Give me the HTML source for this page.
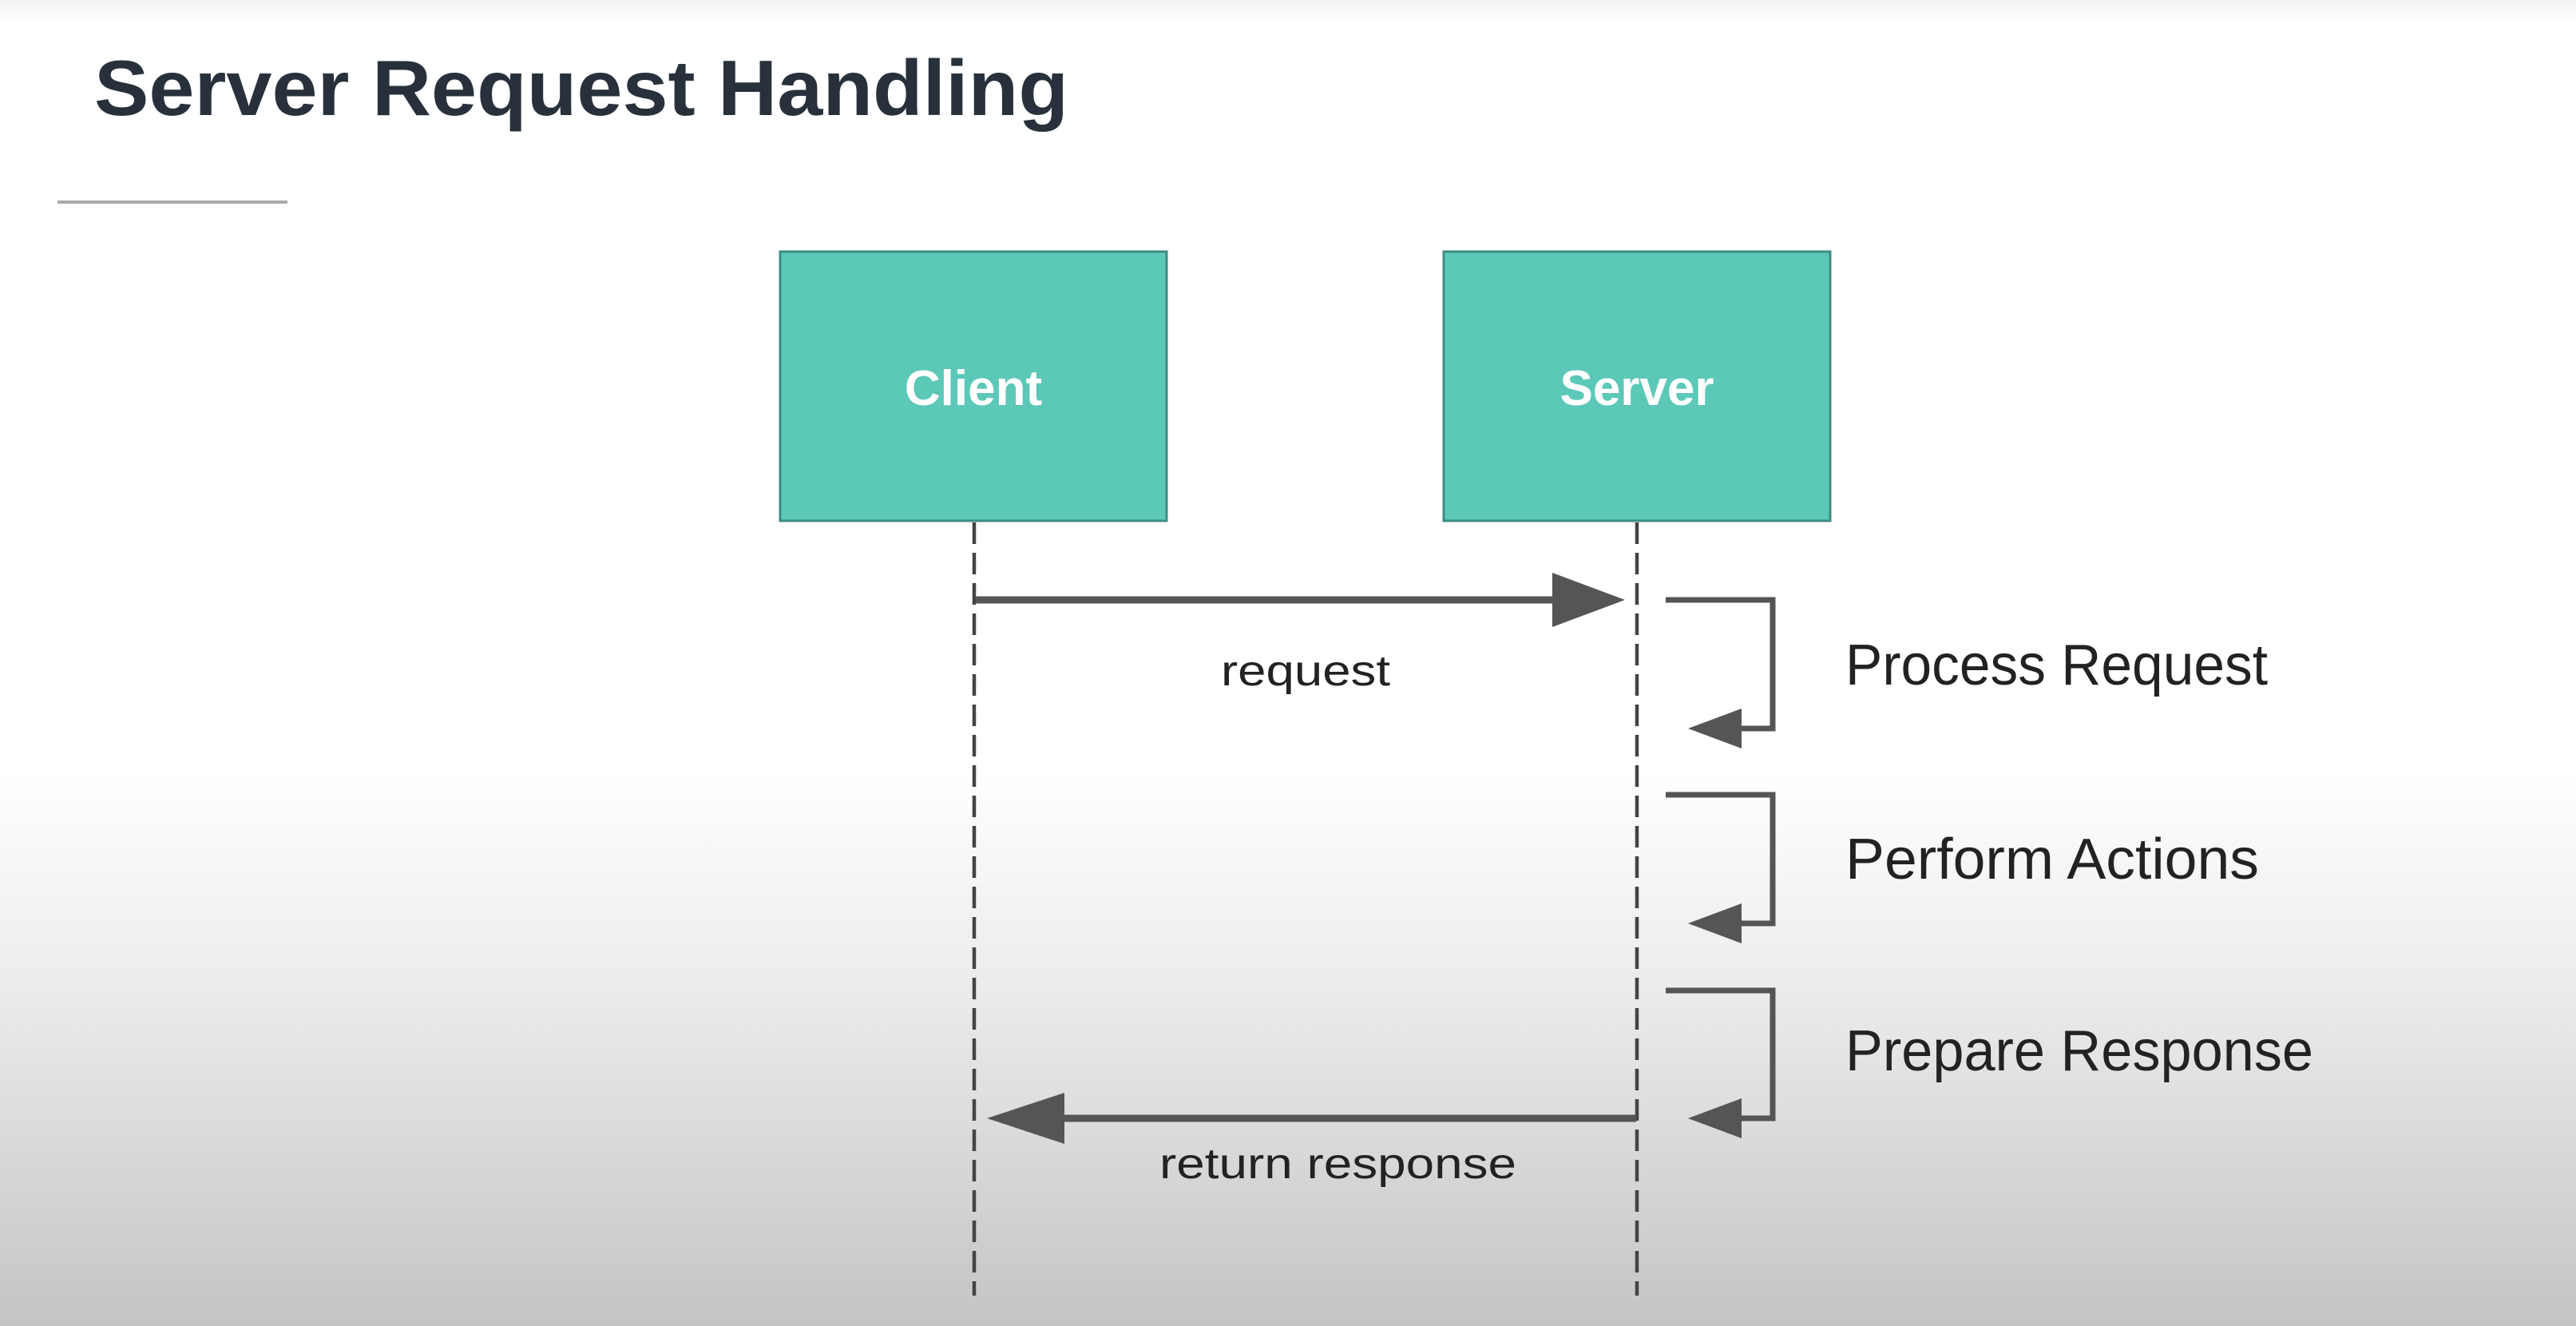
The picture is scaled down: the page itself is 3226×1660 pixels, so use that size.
<!DOCTYPE html>
<html><head><meta charset="utf-8"><style>
html,body{margin:0;padding:0}
body{width:3226px;height:1660px;overflow:hidden}
svg{display:block}
</style></head><body>
<svg width="3226" height="1660" viewBox="0 0 3226 1660" xmlns="http://www.w3.org/2000/svg">
<defs>
<linearGradient id="bg" x1="0" y1="0" x2="0" y2="1">
<stop offset="0" stop-color="#f4f4f4"/>
<stop offset="0.02" stop-color="#ffffff"/>
<stop offset="0.58" stop-color="#ffffff"/>
<stop offset="0.75" stop-color="#ebebeb"/>
<stop offset="1" stop-color="#c4c4c4"/>
</linearGradient>
</defs>
<rect width="3226" height="1660" fill="url(#bg)"/>
<text x="118" y="144" font-family="Liberation Sans, sans-serif" font-weight="bold" font-size="98" fill="#28313b" textLength="1220" lengthAdjust="spacingAndGlyphs">Server Request Handling</text>
<rect x="72" y="251" width="288" height="4" fill="#aaaaaa"/>

<rect x="977" y="315" width="484" height="337" fill="#5cc8b8" stroke="#3d8d83" stroke-width="3"/>
<rect x="1808" y="315" width="484" height="337" fill="#5cc8b8" stroke="#3d8d83" stroke-width="3"/>
<text x="1219" y="507" text-anchor="middle" font-family="Liberation Sans, sans-serif" font-weight="bold" font-size="62" fill="#ffffff">Client</text>
<text x="2050" y="507" text-anchor="middle" font-family="Liberation Sans, sans-serif" font-weight="bold" font-size="62" fill="#ffffff">Server</text>

<g stroke="#444" stroke-width="4.5" stroke-dasharray="27 11">
<line x1="1220" y1="654" x2="1220" y2="1622"/>
<line x1="2050" y1="654" x2="2050" y2="1622"/>
</g>

<g fill="#555" stroke="#555">
<line x1="1222" y1="751" x2="1950" y2="751" stroke-width="9"/>
<polygon points="1944,717 2035,751 1944,785" stroke="none"/>
<line x1="2049" y1="1400" x2="1325" y2="1400" stroke-width="9"/>
<polygon points="1333,1368 1236,1400 1333,1432" stroke="none"/>
</g>

<g fill="none" stroke="#555" stroke-width="7">
<polyline points="2086,751 2220,751 2220,912 2175,912"/>
<polyline points="2086,995 2220,995 2220,1156 2175,1156"/>
<polyline points="2086,1240 2220,1240 2220,1400 2175,1400"/>
</g>
<g fill="#555">
<polygon points="2181,887 2114,912 2181,937"/>
<polygon points="2181,1131 2114,1156 2181,1181"/>
<polygon points="2181,1375 2114,1400 2181,1425"/>
</g>

<g font-family="Liberation Sans, sans-serif" fill="#222">
<text x="1529" y="858" font-size="54" textLength="212" lengthAdjust="spacingAndGlyphs">request</text>
<text x="1452" y="1475" font-size="54" textLength="447" lengthAdjust="spacingAndGlyphs">return response</text>
<text x="2311" y="857" font-size="72" textLength="529" lengthAdjust="spacingAndGlyphs">Process Request</text>
<text x="2311" y="1100" font-size="72" textLength="518" lengthAdjust="spacingAndGlyphs">Perform Actions</text>
<text x="2311" y="1340" font-size="72" textLength="586" lengthAdjust="spacingAndGlyphs">Prepare Response</text>
</g>
</svg>
</body></html>
